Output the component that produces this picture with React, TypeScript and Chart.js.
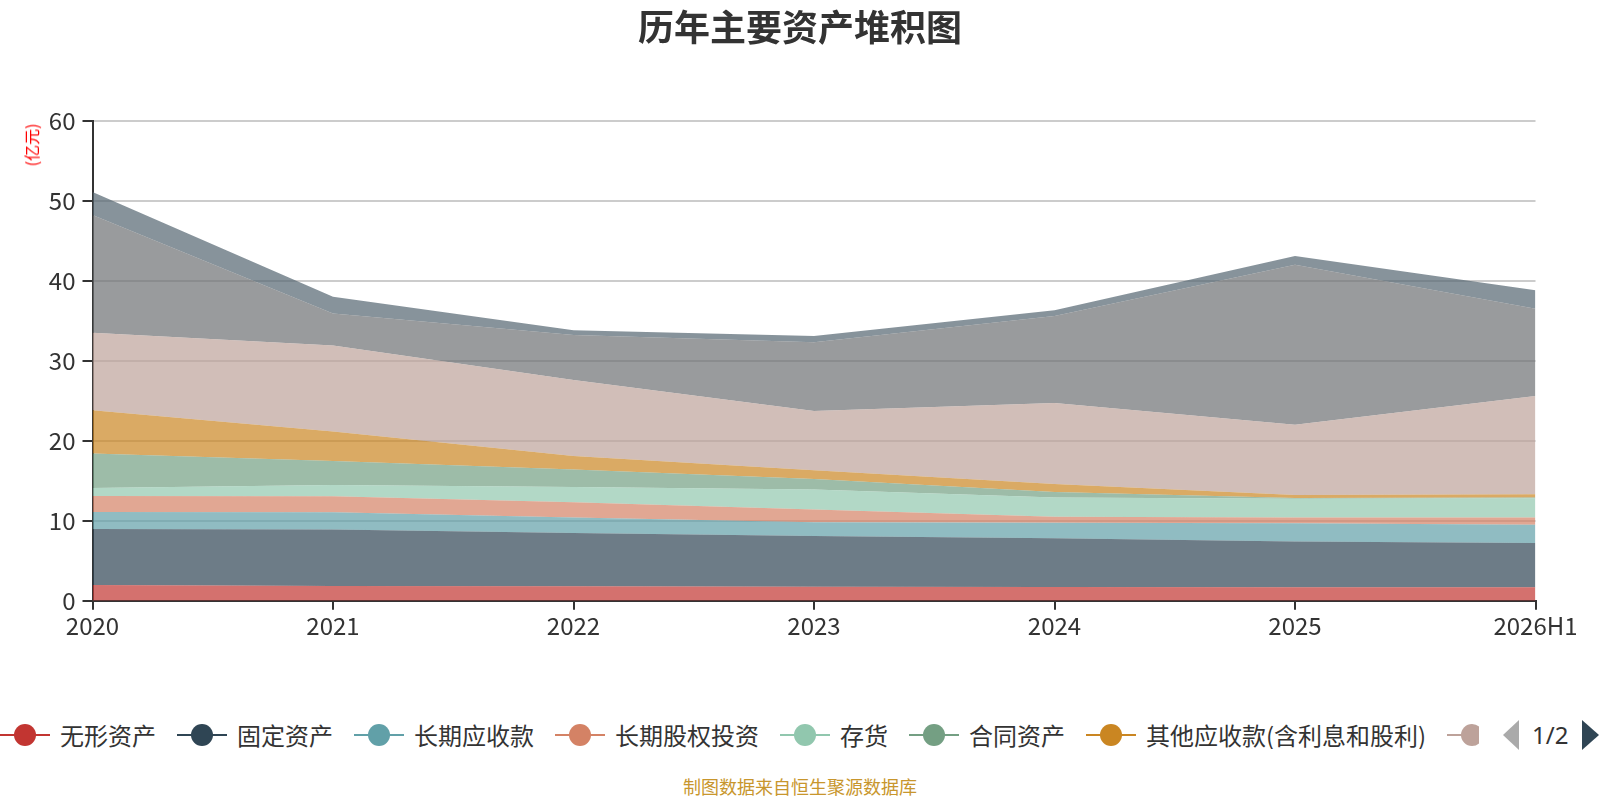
import React, { useEffect, useRef } from 'react';
import { Chart, registerables } from 'chart.js';

Chart.register(...registerables);

const categories = ['2020', '2021', '2022', '2023', '2024', '2025', '2026H1'];

const intangible = [1.95, 1.85, 1.8, 1.75, 1.7, 1.67, 1.67];
const fixedAssets = [7.0, 7.05, 6.65, 6.35, 6.1, 5.73, 5.53];
const ltReceivable = [2.15, 2.15, 1.95, 1.7, 1.95, 2.27, 2.3];
const ltEquity = [2.0, 2.0, 1.9, 1.6, 0.75, 0.73, 0.9];
const inventory = [1.0, 1.4, 1.9, 2.5, 2.4, 2.35, 2.4];
const contractAssets = [4.3, 3.0, 2.2, 1.3, 0.7, 0.1, 0.1];
const otherReceivable = [5.4, 3.7, 1.7, 1.1, 1.0, 0.35, 0.4];
const accountsReceivable = [9.7, 10.75, 9.5, 7.4, 10.1, 8.8, 12.3];
const cash = [14.7, 4.0, 5.6, 8.6, 10.9, 20.0, 10.9];
const tradingAssets = [2.9, 2.1, 0.6, 0.8, 0.7, 1.1, 2.3];

const seriesNames = [
  '无形资产',
  '固定资产',
  '长期应收款',
  '长期股权投资',
  '存货',
  '合同资产',
  '其他应收款(含利息和股利)',
  '应收账款',
  '货币资金',
  '交易性金融资产',
];
const seriesColors = [
  '#c23531', '#2f4554', '#61a0a8', '#d48265', '#91c7ae',
  '#749f83', '#ca8622', '#bda29a', '#6e7074', '#546570',
];
const seriesValues = [
  intangible, fixedAssets, ltReceivable, ltEquity, inventory,
  contractAssets, otherReceivable, accountsReceivable, cash, tradingAssets,
];

const yTicks = [0, 10, 20, 30, 40, 50, 60];

const FONT = "'Noto Sans CJK SC', 'Noto Sans', sans-serif";

function rgba(hex: string, a: number) {
  const n = parseInt(hex.slice(1), 16);
  return `rgba(${(n >> 16) & 255},${(n >> 8) & 255},${n & 255},${a})`;
}

export default function App() {
  const ref = useRef<HTMLCanvasElement>(null);

  useEffect(() => {
    const chart = new Chart(ref.current!, {
      type: 'line',
      data: {
        labels: categories,
        datasets: seriesValues.map((v, i) => ({
          label: seriesNames[i],
          data: v,
          fill: i === 0 ? 'origin' : '-1',
          backgroundColor: rgba(seriesColors[i], 0.7),
          borderColor: 'rgba(0,0,0,0)',
          borderWidth: 0,
          pointRadius: 0,
          pointHoverRadius: 0,
          tension: 0,
        })),
      },
      options: {
        animation: false,
        responsive: false,
        events: [],
        layout: { padding: { top: 120.7, right: 64.5, left: 0, bottom: 0 } },
        plugins: {
          legend: { display: false },
          tooltip: { enabled: false },
          title: { display: false },
        },
        scales: {
          x: {
            type: 'category',
            offset: false,
            grid: {
              drawOnChartArea: false,
              drawTicks: true,
              tickLength: 9,
              tickColor: '#333',
              lineWidth: 2,
            },
            border: { display: true, color: '#333', width: 2 },
            ticks: {
              color: '#333',
              font: { family: FONT, size: 24 },
              padding: 2,
              maxRotation: 0,
              autoSkip: false,
            },
            afterFit: (s: any) => {
              s.height = 79.3;
            },
          },
          y: {
            stacked: true,
            min: 0,
            max: 60,
            afterBuildTicks: (s: any) => {
              s.ticks = yTicks.map((v) => ({ value: v }));
            },
            ticks: {
              color: '#333',
              font: { family: FONT, size: 24 },
              padding: 7,
            },
            grid: {
              color: '#ccc',
              lineWidth: 2,
              tickLength: 10,
              tickColor: '#333',
            },
            border: { display: true, color: '#333', width: 2 },
            afterFit: (s: any) => {
              s.width = 92.5;
            },
          },
        },
      } as any,
    });
    return () => chart.destroy();
  }, []);

  return (
    <div
      style={{
        position: 'fixed',
        left: 0,
        top: 0,
        width: 1600,
        height: 800,
        background: '#fff',
        overflow: 'hidden',
        fontFamily: FONT,
      }}
    >
      <canvas
        ref={ref}
        width={1600}
        height={680}
        style={{ position: 'absolute', left: 0, top: 0, width: 1600, height: 680 }}
      />
      <div
        style={{
          position: 'absolute',
          left: 0,
          top: 7,
          width: 1600,
          textAlign: 'center',
          fontSize: 36,
          lineHeight: '36px',
          fontWeight: 'bold',
          color: '#333',
        }}
      >
        历年主要资产堆积图
      </div>
      <div
        style={{
          position: 'absolute',
          left: 31,
          top: 145,
          transform: 'translate(-50%, -50%) rotate(-90deg)',
          fontSize: 16,
          lineHeight: '16px',
          color: 'red',
          whiteSpace: 'nowrap',
        }}
      >
        (亿元)
      </div>
      <div
        style={{
          position: 'absolute',
          left: 0,
          top: 721,
          width: 1479,
          height: 28,
          overflow: 'hidden',
          display: 'flex',
          flexWrap: 'nowrap',
          whiteSpace: 'nowrap',
        }}
      >
        {seriesNames.map((name, i) => (
          <div
            key={name}
            style={{ display: 'flex', alignItems: 'center', marginRight: 21, flexShrink: 0 }}
          >
            <div style={{ position: 'relative', width: 50, height: 28, flexShrink: 0 }}>
              <div
                style={{
                  position: 'absolute',
                  left: 0,
                  top: 13,
                  width: 50,
                  height: 2,
                  background: seriesColors[i],
                }}
              />
              <div
                style={{
                  position: 'absolute',
                  left: 14,
                  top: 3,
                  width: 22,
                  height: 22,
                  borderRadius: '50%',
                  background: seriesColors[i],
                }}
              />
            </div>
            <div
              style={{
                marginLeft: 10,
                fontSize: 24,
                lineHeight: '28px',
                color: '#333',
              }}
            >
              {name}
            </div>
          </div>
        ))}
      </div>
      <div
        style={{
          position: 'absolute',
          left: 1503,
          top: 720,
          width: 0,
          height: 0,
          borderTop: '15px solid transparent',
          borderBottom: '15px solid transparent',
          borderRight: '16px solid #aaa',
        }}
      />
      <div
        style={{
          position: 'absolute',
          left: 1532,
          top: 721,
          fontSize: 24,
          lineHeight: '28px',
          color: '#333',
          fontFamily: "'Noto Sans', sans-serif",
        }}
      >
        1/2
      </div>
      <div
        style={{
          position: 'absolute',
          left: 1582,
          top: 720,
          width: 0,
          height: 0,
          borderTop: '15px solid transparent',
          borderBottom: '15px solid transparent',
          borderLeft: '17px solid #2f4554',
        }}
      />
      <div
        style={{
          position: 'absolute',
          left: 0,
          top: 777,
          width: 1600,
          textAlign: 'center',
          fontSize: 18,
          lineHeight: '18px',
          color: 'rgb(200,150,45)',
        }}
      >
        制图数据来自恒生聚源数据库
      </div>
    </div>
  );
}
